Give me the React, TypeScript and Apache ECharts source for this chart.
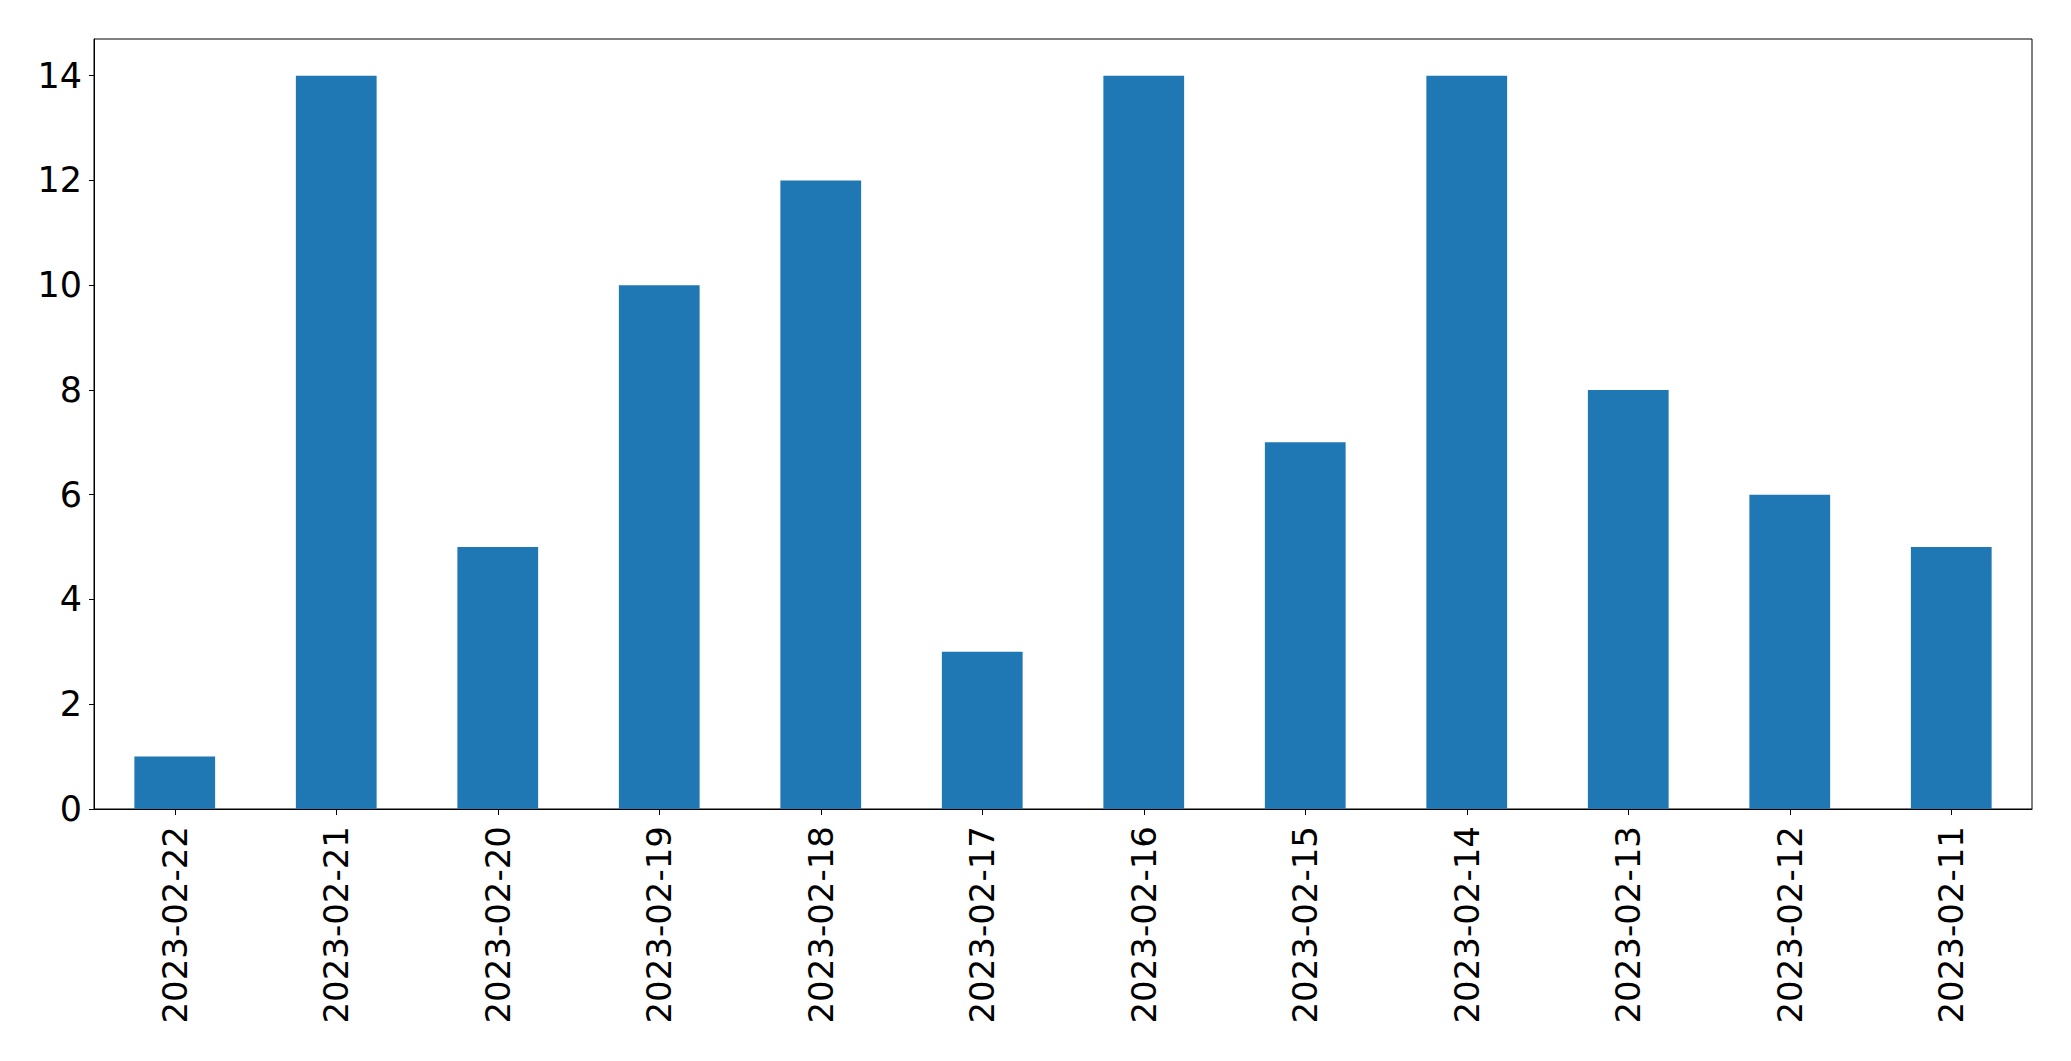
import React, { useEffect, useRef } from "react";
import * as echarts from "echarts";

const categories = [
  "2023-02-22", "2023-02-21", "2023-02-20", "2023-02-19", "2023-02-18", "2023-02-17",
  "2023-02-16", "2023-02-15", "2023-02-14", "2023-02-13", "2023-02-12", "2023-02-11",
];
const values = [1, 14, 5, 10, 12, 3, 14, 7, 14, 8, 6, 5];
const yTicks = [0, 2, 4, 6, 8, 10, 12, 14];

export default function App() {
  const ref = useRef<HTMLDivElement>(null);
  useEffect(() => {
    if (!ref.current) return;
    const chart = echarts.init(ref.current, null, { renderer: "svg" });
    const font = "DejaVu Sans";
    chart.setOption({
      animation: false,
      backgroundColor: "#ffffff",
      grid: {
        left: 94,
        top: 39,
        width: 1938,
        height: 770,
        show: true,
        borderColor: "#000000",
        borderWidth: 1,
        backgroundColor: "transparent",
      },
      xAxis: {
        type: "category",
        data: categories,
        boundaryGap: true,
        axisLine: { show: true, lineStyle: { color: "#000000", width: 1 } },
        axisTick: { show: true, alignWithLabel: true, length: 6, lineStyle: { color: "#000000", width: 1 } },
        axisLabel: {
          rotate: 90,
          margin: 17,
          fontSize: 34,
          fontFamily: font,
          color: "#000000",
          interval: 0,
        },
        splitLine: { show: false },
      },
      yAxis: {
        type: "value",
        min: 0,
        max: 14.7,
        axisLine: { show: true, lineStyle: { color: "#000000", width: 1 } },
        axisTick: { show: true, length: 5, customValues: yTicks, lineStyle: { color: "#000000", width: 1 } },
        axisLabel: {
          customValues: yTicks,
          margin: 12,
          fontSize: 35,
          fontFamily: font,
          color: "#000000",
        },
        splitLine: { show: false },
      },
      series: [
        {
          type: "bar",
          data: values,
          barWidth: "50%",
          itemStyle: { color: "#1f77b4" },
        },
      ],
    });
    return () => chart.dispose();
  }, []);
  return (
    <div
      ref={ref}
      style={{ position: "fixed", left: 0, top: 0, width: 2071, height: 1061, background: "#fff" }}
    />
  );
}
